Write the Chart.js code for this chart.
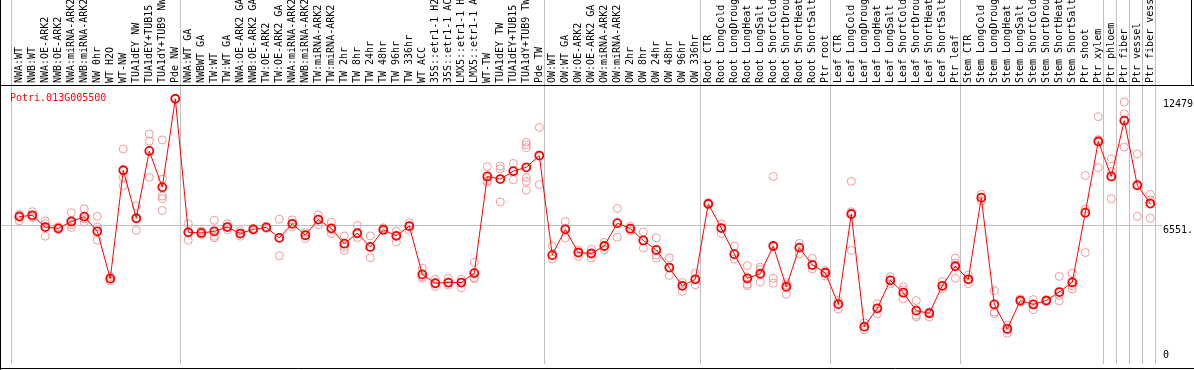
<!DOCTYPE html>
<html>
<head>
<meta charset="utf-8">
<script src="https://cdn.jsdelivr.net/npm/chart.js@4"></script>
<style>
  body { margin: 0; background: #fff; }
  canvas { display: block; }
</style>
</head>
<body>
<canvas id="mychart" width="1194" height="370"></canvas>
<script>
var geneId = 'Potri.013G005500';

var labels = [
    'NWA:WT', 'NWB:WT', 'NWA:OE-ARK2', 'NWB:OE-ARK2', 'NWA:miRNA-ARK2', 'NWB:miRNA-ARK2',
    'NW 0hr', 'WT H2O', 'WT-NW', 'TUA1dEY NW', 'TUA1dEY+TUB15 NW', 'TUA1dY+TUB9 NW', 'Pde NW',
    'NWA:WT GA', 'NWBWT GA', 'TW:WT', 'TW:WT GA', 'NWA:OE-ARK2 GA', 'NWB:OE-ARK2 GA',
    'TW:OE-ARK2', 'TW:OE-ARK2 GA', 'NWA:miRNA-ARK2 GA', 'NWB:miRNA-ARK2 GA', 'TW:miRNA-ARK2',
    'TW:miRNA-ARK2 GA', 'TW 2hr', 'TW 8hr', 'TW 24hr', 'TW 48hr', 'TW 96hr', 'TW 336hr',
    'WT ACC', '35S::etr1-1 H2O', '35S::etr1-1 ACC', 'LMX5::etr1-1 H2O', 'LMX5::etr1-1 ACC',
    'WT-TW', 'TUA1dEY TW', 'TUA1dEY+TUB15 TW', 'TUA1dY+TUB9 TW', 'Pde TW',
    'OW:WT', 'OW:WT GA', 'OW:OE-ARK2', 'OW:OE-ARK2 GA', 'OW:miRNA-ARK2', 'OW:miRNA-ARK2 GA',
    'OW 2hr', 'OW 8hr', 'OW 24hr', 'OW 48hr', 'OW 96hr', 'OW 336hr',
    'Root CTR', 'Root LongCold', 'Root LongDrought', 'Root LongHeat', 'Root LongSalt',
    'Root ShortCold', 'Root ShortDrought', 'Root ShortHeat', 'Root ShortSalt', 'Ptr root',
    'Leaf CTR', 'Leaf LongCold', 'Leaf LongDrought', 'Leaf LongHeat', 'Leaf LongSalt',
    'Leaf ShortCold', 'Leaf ShortDrought', 'Leaf ShortHeat', 'Leaf ShortSalt', 'Ptr leaf',
    'Stem CTR', 'Stem LongCold', 'Stem LongDrought', 'Stem LongHeat', 'Stem LongSalt',
    'Stem ShortCold', 'Stem ShortDrought', 'Stem ShortHeat', 'Stem ShortSalt', 'Ptr shoot',
    'Ptr xylem', 'Ptr phloem', 'Ptr fiber', 'Ptr vessel', 'Ptr fiber vessel'
];

// mean expression per sample (dark red line)
var means = [
    6938, 7000, 6447, 6386, 6708, 6938, 6247, 4022, 9118, 6861, 10024, 8320, 12479,
    6201, 6171, 6247, 6447, 6140, 6340, 6432, 5940, 6600, 6063, 6800, 6386, 5664, 6155,
    5511, 6324, 6033, 6493, 4221, 3807, 3837, 3837, 4283, 8826, 8703, 9072, 9256, 9809,
    5127, 6340, 5250, 5204, 5557, 6631, 6370, 5818, 5372, 4544, 3684, 3991,
    7537, 6401, 5173, 4037, 4252, 5557, 3638, 5480, 4666, 4298,
    2824, 7061, 1765, 2625, 3945, 3362, 2517, 2395, 3684, 4605,
    3991, 7829, 2809, 1658, 2993, 2809, 2993, 3392, 3853, 7122, 10469,
    8826, 11451, 8412, 7552
];

// single replicates (light circles)
var reps = [
    [7046, 6739, 7015], [7168, 6892, 6969], [6739, 6601, 6017], [6462, 6324, 6386],
    [7122, 6554, 6432], [7307, 6831, 6677], [6954, 6447, 5833], [4114, 3914, 4022],
    [10116, 8780, 8396], [7445, 6861, 6294], [10822, 10484, 8780],
    [10545, 8703, 7905, 7782, 7230], [12479],
    [6601, 6201, 5833], [6263, 6094, 6171], [6769, 6017, 5940], [6601, 6324, 6447],
    [6263, 6017, 6140], [6386, 6294], [6478, 6386], [6815, 5940, 5096],
    [6785, 6601, 6462], [6186, 6063, 5910], [7015, 6800, 6554], [6677, 6324, 6140],
    [6033, 5511, 5342], [6524, 6140, 5956], [6033, 5511, 5004], [6416, 6263, 6324],
    [6263, 6033, 5741], [6647, 6493, 6294], [4513, 4114, 4037], [3991, 3776, 3653],
    [4037, 3837, 3715], [3991, 3837, 3592], [4789, 4022, 4068], [9287, 8627, 8550],
    [9317, 9179, 7629], [9440, 9072, 8673], [10438, 10315, 10177, 8780, 8596, 8182],
    [11129, 9809, 8443],
    [5557, 5127, 4943], [6708, 6340, 5940], [5373, 5250, 5066], [5403, 5204, 4989],
    [5726, 5557, 5373], [7322, 6631, 5971], [6478, 6370, 6263], [6217, 5818, 5465],
    [5940, 5142, 4989], [5004, 4544, 4175], [3838, 3684, 3423], [4283, 3991, 3730],
    [7598, 7537, 7491], [6601, 6401, 6140], [5557, 5173, 4943], [4636, 3761, 3684],
    [4559, 4452, 3868], [8826, 4037, 3807], [3838, 3730, 3285], [5680, 5480, 5188],
    [4973, 4666, 4482], [4405, 4298, 4145],
    [2993, 2824, 2594], [8596, 7168, 5342], [1949, 1765, 1612], [2840, 2625, 2379],
    [4114, 3945, 3791], [3638, 3500, 3070], [2993, 2303, 2226], [2456, 2395, 2226],
    [3884, 3684, 3531], [4989, 4759, 4037],
    [4191, 3991, 3791], [7982, 7829, 7675], [3454, 2456, 2379], [1842, 1658, 1458],
    [3070, 2993, 2917], [3039, 2809, 2563], [3039, 2993, 2947], [4129, 3224, 2978],
    [4283, 3684, 3531], [8872, 7291, 5250], [11635, 10561, 9241],
    [9655, 9057, 7782], [12326, 11773, 10208], [9885, 6954], [7982, 7721, 6862]
];

// sample index where each group of samples starts (grey separators)
var groupStarts = [0, 13, 41, 53, 63, 73, 84, 85, 86, 87, 88];

var yTicks = [0, 6551.5, 12479];
var yTickLabels = ['0', '6551.', '12479'];

var monoFont = '"DejaVu Sans Mono", "Liberation Mono", monospace';

var repPoints = [];
reps.forEach(function (r, i) {
    r.forEach(function (v) {
        repPoints.push({ x: i, y: v });
    });
});
var meanPoints = means.map(function (v, i) {
    return { x: i, y: v };
});

var framePlugin = {
    id: 'frame',
    beforeDatasetsDraw: function (chart) {
        var ctx = chart.ctx;
        var area = chart.chartArea;
        var names = chart.scales.names;
        var y = chart.scales.y;
        ctx.save();
        ctx.lineWidth = 1;
        ctx.strokeStyle = '#c0c0c0';
        ctx.beginPath();
        groupStarts.forEach(function (i) {
            var px = Math.floor(names.getPixelForValue(i - 0.5)) + 0.5;
            ctx.moveTo(px, 0);
            ctx.lineTo(px, area.bottom);
        });
        var py = Math.round(y.getPixelForValue(yTicks[1])) + 0.5;
        ctx.moveTo(0, py);
        ctx.lineTo(area.right + 7, py);
        ctx.stroke();

        // black frame: header rule, bottom rule, left edge, right edge of header
        ctx.strokeStyle = '#000';
        ctx.beginPath();
        ctx.moveTo(0, area.top - 0.5);
        ctx.lineTo(chart.width, area.top - 0.5);
        ctx.moveTo(0, 368.5);
        ctx.lineTo(chart.width, 368.5);
        ctx.moveTo(0.5, 0);
        ctx.lineTo(0.5, chart.height);
        ctx.moveTo(chart.width - 2.5, 0);
        ctx.lineTo(chart.width - 2.5, area.top);
        ctx.stroke();
        ctx.restore();
    },
    afterDraw: function (chart) {
        var ctx = chart.ctx;
        var area = chart.chartArea;
        var y = chart.scales.y;
        ctx.save();
        ctx.font = '10px ' + monoFont;
        ctx.fillStyle = '#ff0000';
        ctx.textBaseline = 'alphabetic';
        ctx.fillText(geneId, 10, 100.5);

        ctx.fillStyle = '#000';
        ctx.textBaseline = 'top';
        yTicks.forEach(function (v, i) {
            var ty = Math.min(y.getPixelForValue(v) + 1, area.bottom - 14);
            ctx.fillText(yTickLabels[i], area.right + 8, ty);
        });
        ctx.restore();
    }
};

var ctx = document.getElementById('mychart').getContext('2d');

var mychart = new Chart(ctx, {
    type: 'line',
    data: {
        labels: labels,
        datasets: [{
            type: 'scatter',
            data: repPoints,
            showLine: false,
            pointRadius: 4,
            pointBorderWidth: 1,
            pointBorderColor: '#f09a9a',
            pointBackgroundColor: 'rgba(0,0,0,0)',
            order: 2
        }, {
            type: 'line',
            data: meanPoints,
            borderColor: '#ff0000',
            borderWidth: 1,
            tension: 0,
            pointRadius: 4,
            pointBorderWidth: 1.8,
            pointBorderColor: '#ff0000',
            pointBackgroundColor: 'rgba(0,0,0,0)',
            order: 1
        }]
    },
    options: {
        responsive: false,
        animation: false,
        events: [],
        layout: {
            padding: { left: 11, right: 0, top: 0, bottom: 0 }
        },
        plugins: {
            legend: { display: false },
            tooltip: { enabled: false },
            title: { display: false }
        },
        scales: {
            x: {
                type: 'linear',
                min: -0.638,
                max: 87.362,
                display: false
            },
            names: {
                type: 'category',
                axis: 'x',
                position: 'top',
                labels: labels,
                min: 0,
                max: labels.length - 1,
                offset: true,
                grid: { display: false, drawTicks: false },
                border: { display: false },
                ticks: {
                    autoSkip: false,
                    minRotation: 90,
                    maxRotation: 90,
                    padding: 3,
                    labelOffset: 13.5,
                    color: '#000',
                    font: { family: monoFont, size: 10 }
                },
                afterFit: function (scale) {
                    scale.height = 86;
                }
            },
            y: {
                position: 'right',
                min: 0,
                max: 13078,
                grid: { display: false, drawTicks: false },
                border: { display: false },
                ticks: { display: false },
                afterFit: function (scale) {
                    scale.width = 39;
                }
            }
        }
    },
    plugins: [framePlugin]
});
</script>
</body>
</html>
